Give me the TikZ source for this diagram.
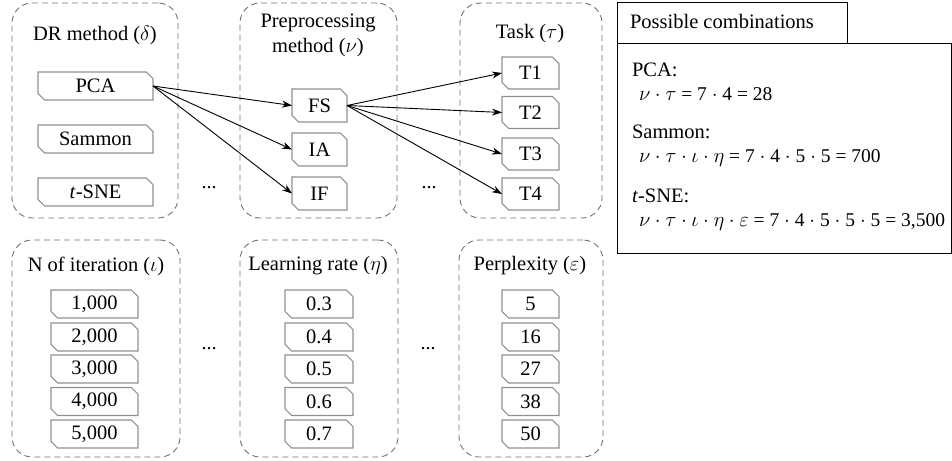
\documentclass[tikz,border=0pt]{standalone}
\usepackage{fontspec}
\setmainfont{Liberation Serif}
\usetikzlibrary{shapes.misc,arrows.meta}
\definecolor{boxgray}{HTML}{707070}
\definecolor{itemgray}{HTML}{909090}
\begin{document}
\begin{tikzpicture}[x=1pt,y=-1pt,
  every node/.style={font=\fontsize{20.5}{25}\selectfont, inner sep=0pt, outer sep=0pt},
  grp/.style={draw=boxgray, line width=0.9pt, dash pattern=on 6pt off 4pt, rounded corners=20pt},
  item/.style={draw=itemgray, line width=1.1pt, chamfered rectangle,
    chamfered rectangle corners={north east,south west},
    chamfered rectangle angle=45, chamfered rectangle xsep=3.5pt,
    minimum height=#1},
  item/.default=28pt,
  conn/.style={line width=0.9pt, -{Stealth[length=10pt,width=7pt]}},
  ttl/.style={align=center},
  dots/.style={font=\fontsize{20}{20}\selectfont},
  txt/.style={anchor=base west},
  frm/.style={anchor=base west, font=\fontsize{19.5}{25}\selectfont}]
\useasboundingbox (0,0) rectangle (952,460);
% group boxes
\node[grp, minimum width=166pt, minimum height=215pt] (g1) at (95,110.5) {};
\node[grp, minimum width=157pt, minimum height=215pt] (g2) at (318.5,110.5) {};
\node[grp, minimum width=142pt, minimum height=215pt] (g3) at (531,110.5) {};
\node[grp, minimum width=168pt, minimum height=217pt] (g4) at (96,348.5) {};
\node[grp, minimum width=158pt, minimum height=217pt] (g5) at (319,348.5) {};
\node[grp, minimum width=144pt, minimum height=217pt] (g6) at (531,348.5) {};
% titles
\node[ttl] (t1) at (95,35) {DR method ($\delta$)};
\node[ttl] (t2) at (318,35) {Preprocessing\\method ($\nu$)};
\node[ttl] (t3) at (530,34) {Task ($\tau$)};
\node[ttl] (t4) at (96,266) {N of iteration ($\iota$)};
\node[ttl] (t5) at (318,266) {Learning rate ($\eta$)};
\node[ttl] (t6) at (530,266) {Perplexity ($\varepsilon$)};
% DR methods
\node[item, minimum width=115pt] (pca) at (95.5,86) {PCA};
\node[item, minimum width=115pt] (sam) at (95.5,139) {Sammon};
\node[item, minimum width=115pt] (tsne) at (95.5,192) {\textit{t}-SNE};
% preprocessing
\node[item=33pt, minimum width=55pt] (fs) at (319.5,105.5) {FS};
\node[item=33pt, minimum width=55pt] (ia) at (319.5,149.5) {IA};
\node[item=33pt, minimum width=55pt] (if) at (319.5,193.5) {IF};
% tasks
\node[item=32pt, minimum width=57pt] (k1) at (530.5,73) {T1};
\node[item=32pt, minimum width=57pt] (k2) at (530.5,112.5) {T2};
\node[item=32pt, minimum width=57pt] (k3) at (530.5,154) {T3};
\node[item=32pt, minimum width=57pt] (k4) at (530.5,194) {T4};
% iterations
\node[item, minimum width=87pt] (i1) at (94.5,304) {1,000};
\node[item, minimum width=87pt] (i2) at (94.5,337) {2,000};
\node[item, minimum width=87pt] (i3) at (94.5,369) {3,000};
\node[item, minimum width=87pt] (i4) at (94.5,401.5) {4,000};
\node[item, minimum width=87pt] (i5) at (94.5,434) {5,000};
% learning rate
\node[item, minimum width=68pt] (l1) at (319,304) {0.3};
\node[item, minimum width=68pt] (l2) at (319,337) {0.4};
\node[item, minimum width=68pt] (l3) at (319,369) {0.5};
\node[item, minimum width=68pt] (l4) at (319,401.5) {0.6};
\node[item, minimum width=68pt] (l5) at (319,434) {0.7};
% perplexity
\node[item, minimum width=57pt] (p1) at (530.5,304) {5};
\node[item, minimum width=57pt] (p2) at (530.5,337) {16};
\node[item, minimum width=57pt] (p3) at (530.5,369) {27};
\node[item, minimum width=57pt] (p4) at (530.5,401.5) {38};
\node[item, minimum width=57pt] (p5) at (530.5,434) {50};
% dots
\node[dots] (d1) at (209,188) {...};
\node[dots] (d2) at (429,188) {...};
\node[dots] (d3) at (209,349) {...};
\node[dots] (d4) at (428,349) {...};
% connectors
\draw[conn] (pca.east) -- (fs.west);
\draw[conn] (pca.east) -- (ia.west);
\draw[conn] (pca.east) -- (if.west);
\draw[conn] (fs.east) -- (k1.west);
\draw[conn] (fs.east) -- (k2.west);
\draw[conn] (fs.east) -- (k3.west);
\draw[conn] (fs.east) -- (k4.west);
% panel
\node[draw, line width=0.9pt, minimum width=230pt, minimum height=41pt, anchor=north west] (tab) at (617,2) {};
\node[draw, line width=0.9pt, minimum width=334pt, minimum height=210pt, anchor=north west] (panel) at (617,43) {};
\node[txt] (hd) at (630,29) {Possible combinations};
\node[txt] (c1) at (632,76) {PCA:};
\node[frm] (f1) at (639,100) {$\nu\cdot\tau$ = 7 $\cdot$ 4 = 28};
\node[txt] (c2) at (632,138) {Sammon:};
\node[frm] (f2) at (639,162) {$\nu\cdot\tau\cdot\iota\cdot\eta$ = 7 $\cdot$ 4 $\cdot$ 5 $\cdot$ 5 = 700};
\node[txt] (c3) at (632,202) {\textit{t}-SNE:};
\node[frm] (f3) at (639,226) {$\nu\cdot\tau\cdot\iota\cdot\eta\cdot\varepsilon$ = 7 $\cdot$ 4 $\cdot$ 5 $\cdot$ 5 $\cdot$ 5 = 3,500};
\end{tikzpicture}
\end{document}
